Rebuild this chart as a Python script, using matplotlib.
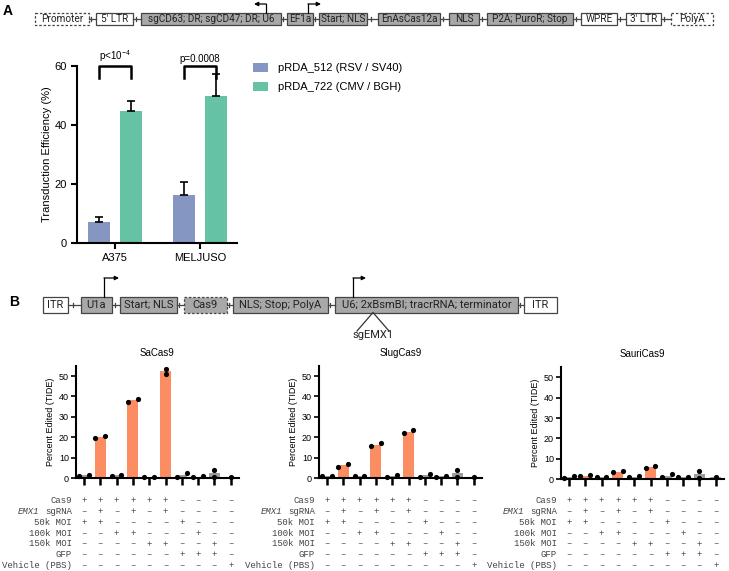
import matplotlib
matplotlib.use('Agg')
import matplotlib.pyplot as plt
import matplotlib.transforms as mtransforms
from matplotlib.patches import Rectangle
import numpy as np

plt.rcParams['font.family'] = ['Liberation Sans', 'DejaVu Sans']
plt.rcParams['mathtext.fontset'] = 'custom'
plt.rcParams['mathtext.rm'] = 'Liberation Sans'

W, H = 729, 571

# ---- panel A data (transduction efficiency, %)
cell_lines = ['A375', 'MELJUSO']
vectors = ['pRDA_512 (RSV / SV40)', 'pRDA_722 (CMV / BGH)']
eff_512 = [7.1, 16.2]
err_512 = [1.7, 4.5]
eff_722 = [44.7, 49.8]
err_722 = [3.5, 7.6]
pvals = [r'p<10$^{-4}$', 'p=0.0008']

# ---- panel B data (percent edited, TIDE), two replicates per condition
enzymes = ['SaCas9', 'SlugCas9', 'SauriCas9']
sa_pts = [[1.0, 1.6], [19.6, 20.6], [1.0, 1.6], [37.4, 38.7], [0.65, 0.65],
          [53.6, 51.0], [0.65, 2.3], [0.65, 0.8], [4.1, 0.5], [0.65]]
slug_pts = [[1.0, 1.0], [5.6, 6.7], [1.0, 1.0], [15.5, 17.3], [0.7, 1.5],
            [22.1, 23.4], [0.7, 2.1], [0.7, 1.0], [4.1, 0.5], [0.7]]
sauri_pts = [[0.8, 1.6], [1.6, 2.1], [1.3, 1.3], [3.4, 3.9], [1.0, 1.6],
             [5.7, 6.5], [1.0, 2.5], [1.0, 1.1], [4.1, 0.8], [1.0]]

row_labels = ['Cas9', 'EMX1 sgRNA', '50k MOI', '100k MOI', '150k MOI', 'GFP', 'Vehicle (PBS)']
cond_rows = ['++++++----',
             '-+-+-+----',
             '++----+---',
             '--++---+--',
             '----++--+-',
             '------+++-',
             '---------+']

blue = '#8596C2'
green = '#66C2A5'
orange = '#FC8D62'
gray = '#9E9E9E'

fig = plt.figure(figsize=(W / 100, H / 100), dpi=100)


def rect(l, t, r, b):
    return [l / W, 1 - b / H, (r - l) / W, (b - t) / H]


# overlay in pixel coordinates for diagrams and labels
ov = fig.add_axes([0, 0, 1, 1], zorder=-1)
ov.set_xlim(0, W)
ov.set_ylim(H, 0)
ov.axis('off')


def style_axes(ax, lw=1.5):
    for s in ['top', 'right']:
        ax.spines[s].set_visible(False)
    for s in ['left', 'bottom']:
        ax.spines[s].set_linewidth(lw)


# ---------------- panel A bar chart
axA = fig.add_axes(rect(77, 66, 237, 243))
x = np.arange(len(cell_lines))
off, bw = 0.188, 0.26
ekw = dict(ecolor='k', capsize=3.2, elinewidth=1.2, capthick=1.2)
b1 = axA.bar(x - off, eff_512, bw, color=blue, yerr=[np.zeros(2), err_512], error_kw=ekw)
b2 = axA.bar(x + off, eff_722, bw, color=green, yerr=[np.zeros(2), err_722], error_kw=ekw)
axA.set_xlim(-0.447, 1.435)
axA.set_ylim(0, 60)
axA.set_yticks([0, 20, 40, 60])
axA.set_xticks(x)
axA.set_xticklabels(cell_lines, fontsize=8)
axA.tick_params(axis='y', labelsize=8, length=4, width=1.5)
axA.tick_params(axis='x', length=4, width=1.5)
axA.set_ylabel('Transduction Efficiency (%)', fontsize=8, labelpad=1.5)
style_axes(axA)
for i, p in enumerate(pvals):
    axA.plot([i - off, i - off, i + off, i + off], [56, 60, 60, 56], color='k', lw=1.8, clip_on=False)
    axA.text(i, 60.7, p, ha='center', va='bottom', fontsize=7)
axA.legend([b1, b2], vectors, loc='upper left', bbox_to_anchor=(253 / W, 1 - 63 / H),
           bbox_transform=fig.transFigure, frameon=False, fontsize=8, handlelength=1.35,
           handleheight=0.8, handletextpad=0.9, labelspacing=0.8, borderaxespad=0, borderpad=0)

# ---------------- panel B bar charts
first_tick = [84, 327, 569]
zero_y = [478, 478, 479.3]
unit_x, unit_y = 16.3, 2.04
all_pts = [sa_pts, slug_pts, sauri_pts]
sgrna = cond_rows[1]
for k, name in enumerate(enzymes):
    left = first_tick[k] - 0.5 * unit_x
    ax = fig.add_axes(rect(left, zero_y[k] - 55 * unit_y, left + 10 * unit_x, zero_y[k]))
    pts = all_pts[k]
    means = [np.mean(p) for p in pts]
    cols = [orange if sgrna[i] == '+' else gray for i in range(len(pts))]
    ax.bar(np.arange(len(pts)), means, 0.68, color=cols, zorder=1)
    for i, p in enumerate(pts):
        if len(p) == 2 and abs(p[0] - p[1]) < 2.5:
            xs = [i - 0.3, i + 0.3]
        else:
            xs = [i] * len(p)
        ax.scatter(xs, p, s=14, color='k', zorder=3, clip_on=False, linewidths=0)
    ax.set_xlim(-0.5, 9.5)
    ax.set_ylim(0, 55)
    ax.set_yticks(range(0, 51, 10))
    ax.set_xticks(range(10))
    ax.set_xticklabels([])
    ax.tick_params(axis='y', labelsize=6.5, length=3.5, width=1.2, pad=1.5)
    ax.tick_params(axis='x', length=5, width=1.8)
    ax.set_ylabel('Percent Edited (TIDE)', fontsize=6.5, labelpad=3)
    ax.set_title(name, fontsize=7, pad=7)
    style_axes(ax)

    # condition table below the axis
    bl = mtransforms.blended_transform_factory(ax.transData, ov.transData)
    lab_tr = mtransforms.offset_copy(bl, fig=fig, x=-12, units='dots')
    it_tr = mtransforms.offset_copy(bl, fig=fig, x=-12 - 6 * 0.6 * 6.5 * 100 / 72, units='dots')
    for r, lab in enumerate(row_labels):
        yy = 500.8 + r * 10.8
        if lab.startswith('EMX1'):
            ax.text(0, yy, 'sgRNA', transform=lab_tr, ha='right', va='center',
                    family='Liberation Mono', fontsize=6.5, color='#444444')
            ax.text(0, yy, 'EMX1', transform=it_tr, ha='right', va='center',
                    family='Liberation Mono', style='italic', fontsize=6.5, color='#444444')
        else:
            ax.text(0, yy, lab, transform=lab_tr, ha='right', va='center',
                    family='Liberation Mono', fontsize=6.5, color='#444444')
        for i, c in enumerate(cond_rows[r]):
            ax.text(i, yy, '+' if c == '+' else '\u2013', transform=bl, ha='center', va='center',
                    family='Liberation Mono', fontsize=6.5, color='#444444')

# ---------------- construct diagrams
box_font = ['Liberation Sans Narrow', 'Roboto']


def draw_row(boxes, y0, y1, fs):
    ym = (y0 + y1) / 2
    for j, (lab, kind, a, b) in enumerate(boxes):
        fill = '#A8A8A8' if kind in ('gray', 'graydash') else 'white'
        ls = (0, (2, 1.5)) if 'dash' in kind else '-'
        ov.add_patch(Rectangle((a, y0), b - a, y1 - y0, facecolor=fill, edgecolor='#444444',
                               lw=0.9, linestyle=ls))
        ov.text((a + b) / 2, ym + 0.5, lab, ha='center', va='center', fontsize=fs,
                family=box_font, color='#222222')
        if j + 1 < len(boxes):
            nxt = boxes[j + 1][2]
            ov.plot([b, nxt], [ym, ym], color='#444444', lw=0.9)
            t = b + (nxt - b) * 0.35
            ov.plot([t, t], [ym - 2, ym + 2], color='#444444', lw=0.9)


def bent_arrow(xv, ytop, ybot, xend):
    ov.plot([xv, xv], [ybot, ytop], color='k', lw=0.9)
    ov.annotate('', xy=(xend, ytop), xytext=(xv, ytop),
                arrowprops=dict(arrowstyle='-|>', color='k', lw=0.9, mutation_scale=6,
                                shrinkA=0, shrinkB=0))


boxes_a = [('Promoter', 'dash', 35, 89), ("5' LTR", 'white', 96, 133),
           ('sgCD63; DR; sgCD47; DR; U6', 'gray', 141, 281), ('EF1a', 'gray', 287, 313),
           ('Start; NLS', 'gray', 319, 367), ('EnAsCas12a', 'gray', 378, 440),
           ('NLS', 'gray', 449, 479), ('P2A; PuroR; Stop', 'gray', 487, 573),
           ('WPRE', 'white', 581, 617), ("3' LTR", 'white', 626, 661), ('PolyA', 'dash', 671, 713)]
draw_row(boxes_a, 13, 24.5, 7.2)
bent_arrow(266, 4, 13, 254)
bent_arrow(308, 4, 13, 321)

boxes_b = [('ITR', 'white', 43, 68), ('U1a', 'gray', 81, 112), ('Start; NLS', 'gray', 120, 177),
           ('Cas9', 'graydash', 184, 227), ('NLS; Stop; PolyA', 'gray', 233, 328),
           ('U6; 2xBsmBI; tracrRNA; terminator', 'gray', 335, 518), ('ITR', 'white', 524, 557)]
draw_row(boxes_b, 297, 312.5, 8)
bent_arrow(104, 278, 297, 119)
bent_arrow(353, 278, 297, 366)
ov.plot([357, 373, 389], [331, 312.5, 331], color='#333333', lw=0.9)
ov.text(373, 335, 'sgEMX1', ha='center', va='center', fontsize=8, family=box_font, color='#222222')

ov.text(7.5, 11, 'A', ha='center', va='center', fontsize=10, fontweight='bold')
ov.text(14, 302, 'B', ha='center', va='center', fontsize=10, fontweight='bold')

fig.savefig('out.png', dpi=100)
